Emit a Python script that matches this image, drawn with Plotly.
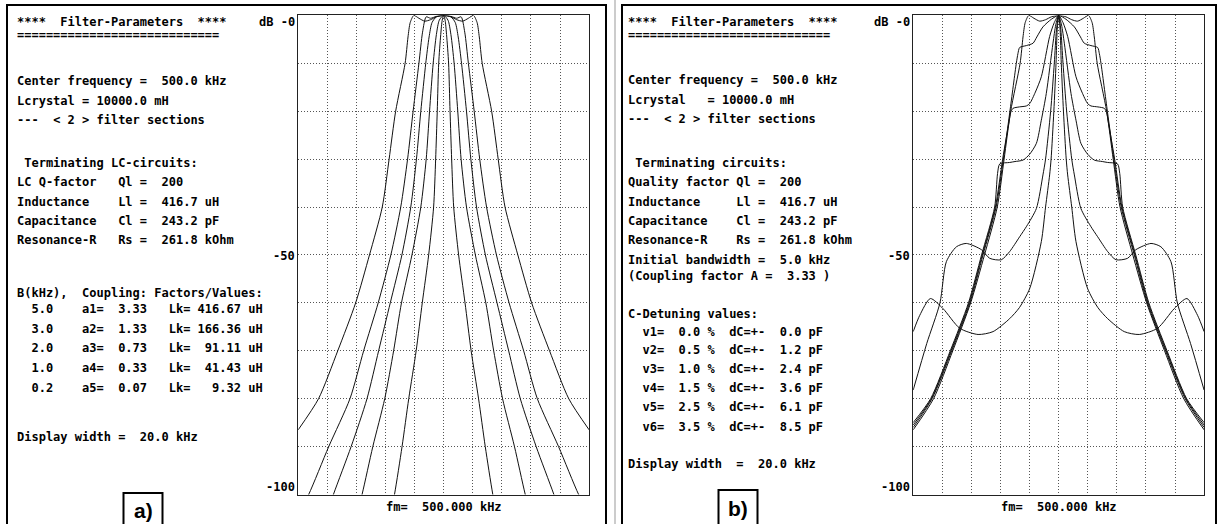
import plotly.graph_objects as go

W, H = 1219, 524

# ---------------- data ----------------
F_CENTER = 500.0            # kHz
F_SPAN = 20.0               # display width, kHz

# Panel a: coupling bandwidths; offsets from centre (kHz) and attenuation (dB), right half
A_NAMES = ["B=5.0 kHz", "B=3.0 kHz", "B=2.0 kHz", "B=1.0 kHz", "B=0.2 kHz"]
A_OFF = [
    [0, 0.5, 0.9, 1.3, 1.7, 2.05, 2.3, 2.45, 2.65, 3.3, 3.75, 4.22, 5.1, 6.05, 7.28, 8.6, 10.0],
    [0, 0.5, 0.9, 1.2, 1.45, 1.7, 2.1, 2.48, 2.95, 3.63, 4.5, 5.5, 6.44, 7.9, 9.28, 10.0],
    [0, 0.5, 0.8, 1.0, 1.23, 1.57, 1.87, 2.26, 2.87, 3.67, 4.47, 5.27, 6.36, 7.58, 8.5],
    [0, 0.3, 0.5, 0.72, 0.97, 1.2, 1.57, 2.18, 2.9, 3.44, 4.05, 4.87, 5.61, 6.3],
    [0, 0.1, 0.2, 0.34, 0.44, 0.55, 0.69, 1.03, 1.47, 1.89, 2.4, 2.86, 3.38, 3.9],
]
A_DB = [
    [0, -0.3, -0.9, -1.2, -0.6, 0, -1.5, -4.5, -10, -20, -30, -40, -50, -60, -70, -80, -86.5],
    [0, -0.2, -0.6, -0.3, -3.5, -10, -20, -30, -40, -50, -60, -70, -80, -90, -100, -104],
    [0, -0.3, -1.5, -4.5, -10, -20, -30, -40, -50, -60, -70, -80, -90, -100, -108],
    [0, -1.0, -4.0, -10, -20, -30, -40, -50, -60, -70, -80, -90, -100, -108],
    [0, -1.0, -4.0, -10, -20, -30, -40, -50, -60, -70, -80, -90, -100, -108],
]

# Panel b: C-detuning values v1..v6
B_NAMES = ["v1=0.0%", "v2=0.5%", "v3=1.0%", "v4=1.5%", "v5=2.5%", "v6=3.5%"]
B_OFF = [
    [0, 0.5, 0.9, 1.3, 1.7, 2.05, 2.3, 2.45, 2.65, 3.3, 3.75, 4.22, 5.1, 6.05, 7.28, 8.6, 10.0],
    [0, 0.5, 1.08, 1.5, 1.76, 2.22, 2.68, 2.8, 2.91, 3.35, 3.8, 4.3, 5.2, 6.1, 7.35, 8.7, 10.0],
    [0, 0.3, 0.62, 1.19, 1.6, 1.99, 2.22, 2.7, 3.14, 3.3, 3.4, 3.85, 4.35, 5.25, 6.15, 7.4, 8.75, 10.0],
    [0, 0.2, 0.39, 0.85, 1.2, 1.53, 2.0, 2.45, 3.0, 3.37, 4.05, 4.2, 4.4, 5.3, 6.2, 7.45, 8.8, 10.0],
    [0, 0.15, 0.3, 0.55, 0.9, 1.08, 1.53, 2.2, 2.68, 3.37, 3.94, 4.74, 5.31, 6.35, 7.03, 7.72, 8.16, 9.07, 10.0],
    [0, 0.1, 0.18, 0.33, 0.52, 0.62, 0.9, 1.19, 1.99, 2.7, 3.37, 4.51, 5.54, 6.8, 7.95, 8.82, 9.55, 10.0],
]
B_DB = [
    [0, -0.3, -0.9, -1.2, -0.6, 0, -1.5, -4.5, -10, -20, -30, -40, -50, -60, -70, -80, -86.5],
    [0, -0.8, -2.4, -4.5, -5.8, -6.3, -6.7, -8, -10, -20, -30, -40, -50, -60, -70, -80, -86],
    [0, -1.5, -4.4, -12.8, -16, -18.4, -18.9, -19.1, -19.4, -20.3, -22, -30, -40, -50, -60, -70, -80, -85.5],
    [0, -2, -5.8, -16.3, -22, -26.7, -29, -30.2, -30.5, -30.7, -31, -33, -40, -50, -60, -70, -80, -85],
    [0, -3, -10, -20, -30, -33.3, -40.3, -44, -46.2, -49.3, -51, -50.7, -48.9, -47.6, -48.3, -51.4, -60, -68.5, -78.2],
    [0, -3, -10, -20, -30, -33.3, -40, -47.2, -57, -61, -63.3, -66, -66.6, -65.3, -61.2, -59.1, -62.6, -66],
]

Y_LABELS = ["dB -0", "-50", "-100"]
Y_LABEL_PIX = [22, 256, 487]       # vertical pixel centre of each label
X_LABEL = "fm=  500.000 kHz"

A_TEXT = [
    (22, "****  Filter-Parameters  ****"),
    (35, "============================"),
    (81, "Center frequency =  500.0 kHz"),
    (100.5, "Lcrystal = 10000.0 mH"),
    (120, "---  < 2 > filter sections"),
    (163, " Terminating LC-circuits:"),
    (182, "LC Q-factor   Ql =  200"),
    (202, "Inductance    Ll =  416.7 uH"),
    (221, "Capacitance   Cl =  243.2 pF"),
    (240, "Resonance-R   Rs =  261.8 kOhm"),
    (293, "B(kHz),  Coupling: Factors/Values:"),
    (309, "  5.0    a1=  3.33   Lk= 416.67 uH"),
    (328.5, "  3.0    a2=  1.33   Lk= 166.36 uH"),
    (348, "  2.0    a3=  0.73   Lk=  91.11 uH"),
    (368, "  1.0    a4=  0.33   Lk=  41.43 uH"),
    (388, "  0.2    a5=  0.07   Lk=   9.32 uH"),
    (437, "Display width =  20.0 kHz"),
]
B_TEXT = [
    (22, "****  Filter-Parameters  ****"),
    (35, "============================"),
    (80.5, "Center frequency =  500.0 kHz"),
    (99.5, "Lcrystal   = 10000.0 mH"),
    (118.5, "---  < 2 > filter sections"),
    (163, " Terminating circuits:"),
    (182, "Quality factor Ql =  200"),
    (201.5, "Inductance     Ll =  416.7 uH"),
    (221, "Capacitance    Cl =  243.2 pF"),
    (240, "Resonance-R    Rs =  261.8 kOhm"),
    (259.5, "Initial bandwidth =  5.0 kHz"),
    (276, "(Coupling factor A =  3.33 )"),
    (313.5, "C-Detuning values:"),
    (332, "  v1=  0.0 %  dC=+-  0.0 pF"),
    (350, "  v2=  0.5 %  dC=+-  1.2 pF"),
    (368.5, "  v3=  1.0 %  dC=+-  2.4 pF"),
    (388, "  v4=  1.5 %  dC=+-  3.6 pF"),
    (407, "  v5=  2.5 %  dC=+-  6.1 pF"),
    (426.5, "  v6=  3.5 %  dC=+-  8.5 pF"),
    (463.5, "Display width  =  20.0 kHz"),
]

# ---------------- layout geometry (pixels) ----------------
A_X0, A_X1 = 298.2, 589.1
B_X0, B_X1 = 913.2, 1204.1
P_Y0, P_Y1 = 15.4, 494.5


def fx(x):
    return x / W


def fy(y):
    return 1 - y / H


fig = go.Figure()


def mirrored(off, db):
    xs = [F_CENTER - o for o in reversed(off)] + [F_CENTER + o for o in off[1:]]
    ys = list(reversed(db)) + db[1:]
    return xs, ys


for name, off, db in zip(A_NAMES, A_OFF, A_DB):
    xs, ys = mirrored(off, db)
    fig.add_trace(go.Scatter(x=xs, y=ys, name=name, mode="lines",
                             line=dict(color="#111", width=1, shape="spline", smoothing=0.7),
                             xaxis="x", yaxis="y", showlegend=False, hoverinfo="skip"))

for name, off, db in zip(B_NAMES, B_OFF, B_DB):
    xs, ys = mirrored(off, db)
    fig.add_trace(go.Scatter(x=xs, y=ys, name=name, mode="lines",
                             line=dict(color="#111", width=1, shape="spline", smoothing=0.7),
                             xaxis="x2", yaxis="y2", showlegend=False, hoverinfo="skip"))

axis_common = dict(showgrid=True, gridcolor="#555", griddash="1px,2px", gridwidth=1,
                   showticklabels=False, ticks="", zeroline=False, showline=True,
                   linecolor="#222", linewidth=1, mirror=True, fixedrange=True)

fig.update_layout(
    width=W, height=H, margin=dict(l=0, r=0, t=0, b=0),
    paper_bgcolor="white", plot_bgcolor="white",
    xaxis=dict(domain=[fx(A_X0), fx(A_X1)], range=[F_CENTER - F_SPAN / 2, F_CENTER + F_SPAN / 2],
               dtick=2, tick0=490, anchor="y", **axis_common),
    yaxis=dict(domain=[fy(P_Y1), fy(P_Y0)], range=[-100, 0], dtick=10, tick0=0, anchor="x", **axis_common),
    xaxis2=dict(domain=[fx(B_X0), fx(B_X1)], range=[F_CENTER - F_SPAN / 2, F_CENTER + F_SPAN / 2],
                dtick=2, tick0=490, anchor="y2", **axis_common),
    yaxis2=dict(domain=[fy(P_Y1), fy(P_Y0)], range=[-100, 0], dtick=10, tick0=0, anchor="x2", **axis_common),
)

MONO = dict(family="DejaVu Sans Mono", size=12, color="black")
ann = []


def nb(s):
    return s.replace(" ", "\u00a0")


for (y, s) in A_TEXT:
    ann.append(dict(xref="paper", yref="paper", x=fx(15), y=fy(y), text="<b>" + nb(s) + "</b>",
                    showarrow=False, xanchor="left", yanchor="middle", font=MONO))
for (y, s) in B_TEXT:
    ann.append(dict(xref="paper", yref="paper", x=fx(626), y=fy(y), text="<b>" + nb(s) + "</b>",
                    showarrow=False, xanchor="left", yanchor="middle", font=MONO))

# axis labels
for xa, x0 in (("x", A_X0), ("x2", B_X0)):
    for lab, ypix in zip(Y_LABELS, Y_LABEL_PIX):
        ann.append(dict(xref="paper", yref="paper", x=fx(x0 - 1), y=fy(ypix), text="<b>" + nb(lab) + "</b>",
                        showarrow=False, xanchor="right", yanchor="middle", font=MONO))
for xa, ya in (("x", "y"), ("x2", "y2")):
    ann.append(dict(xref=xa, yref=ya + " domain", x=F_CENTER, y=0, text="<b>" + nb(X_LABEL) + "</b>",
                    showarrow=False, xanchor="center", yanchor="top", yshift=-3, font=MONO))

# panel labels a), b)
LBL_FONT = dict(family="Liberation Sans, Arial", size=21, color="black")
ann.append(dict(xref="paper", yref="paper", x=fx(143), y=fy(510), text="<b>a)</b>", showarrow=False,
                xanchor="center", yanchor="middle", font=LBL_FONT))
ann.append(dict(xref="paper", yref="paper", x=fx(738), y=fy(508), text="<b>b)</b>", showarrow=False,
                xanchor="center", yanchor="middle", font=LBL_FONT))

fig.update_layout(annotations=ann)

shapes = []
# outer frames
shapes.append(dict(type="rect", xref="paper", yref="paper", x0=fx(7), x1=fx(606), y0=fy(5), y1=fy(540),
                   line=dict(color="black", width=2)))
shapes.append(dict(type="line", xref="paper", yref="paper", x0=fx(615), x1=fx(615), y0=fy(0), y1=fy(540),
                   line=dict(color="#999", width=1)))
shapes.append(dict(type="rect", xref="paper", yref="paper", x0=fx(622), x1=fx(1216), y0=fy(5), y1=fy(540),
                   line=dict(color="black", width=2)))
# label boxes
shapes.append(dict(type="rect", xref="paper", yref="paper", x0=fx(123.5), x1=fx(162.5), y0=fy(493), y1=fy(540),
                   line=dict(color="black", width=2)))
shapes.append(dict(type="rect", xref="paper", yref="paper", x0=fx(718.5), x1=fx(757.5), y0=fy(490), y1=fy(540),
                   line=dict(color="black", width=2)))
fig.update_layout(shapes=shapes)

fig.write_html("out.html")
